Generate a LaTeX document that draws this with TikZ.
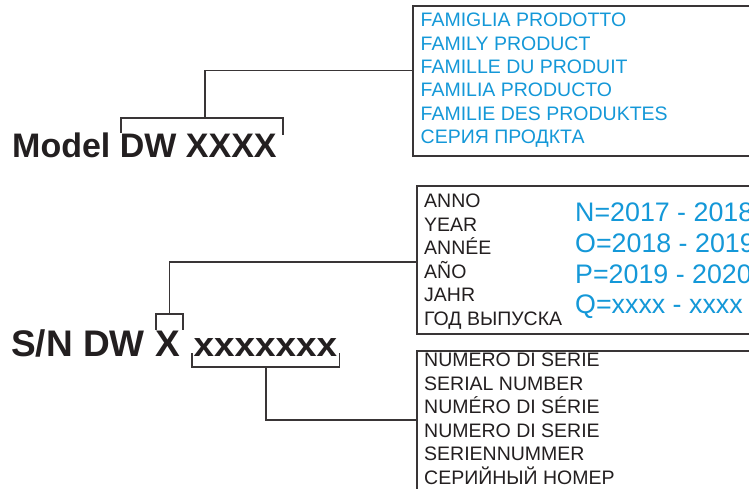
\documentclass[tikz,border=0pt]{standalone}
\usepackage{fontspec}
\usepackage{graphicx}
\setmainfont{Liberation Sans}
\definecolor{lbl}{RGB}{20,152,216}
\definecolor{ink}{RGB}{35,31,32}
\begin{document}
\begin{tikzpicture}[x=1pt,y=-1pt,
  box/.style={draw=ink!90, line width=2pt, anchor=north west, inner sep=0pt},
  conn/.style={draw=ink!90, line width=1.6pt},
  big/.style={font=\fontsize{34}{40}\selectfont\bfseries, text=ink, anchor=base west, inner sep=0pt},
  bigger/.style={big, font=\fontsize{37}{42}\selectfont\bfseries},
  small/.style={font=\fontsize{19.5}{23}\selectfont, anchor=base west, inner sep=0pt},
  blue/.style={small, text=lbl},
  blk/.style={small, text=ink},
  year/.style={font=\fontsize{26.8}{30}\selectfont, text=lbl, anchor=base west, inner sep=0pt}]
\useasboundingbox[fill=white] (0,0) rectangle (749,489);
% boxes
\node[box, minimum width=400pt, minimum height=150pt] (b1) at (412,5) {};
\node[box, minimum width=400pt, minimum height=148pt] (b2) at (415.7,185) {};
\node[box, minimum width=400pt, minimum height=180pt] (b3) at (415.7,350) {};
% box 1 texts
\node[blue] (t11) at (420.5,26.8) {FAMIGLIA PRODOTTO};
\node[blue] (t12) at (420.5,50.1) {FAMILY PRODUCT};
\node[blue] (t13) at (420.5,73.5) {FAMILLE DU PRODUIT};
\node[blue] (t14) at (420.5,96.8) {FAMILIA PRODUCTO};
\node[blue] (t15) at (420.5,120.1) {FAMILIE DES PRODUKTES};
\node[blue] (t16) at (420.5,143.5) {СЕРИЯ ПРОДКТА};
% box 2 texts
\node[blk] (t21) at (424,207.5) {ANNO};
\node[blk] (t22) at (424,231) {YEAR};
\node[blk] (t23) at (424,254.5) {ANNÉE};
\node[blk] (t24) at (424,278) {AÑO};
\node[blk] (t25) at (424,301.5) {JAHR};
\node[blk] (t26) at (424,325) {ГОД ВЫПУСКА};
\node[year] (y1) at (575,221.7) {N=2017 - 2018};
\node[year] (y2) at (575,252.4) {O=2018 - 2019};
\node[year] (y3) at (575,283.1) {P=2019 - 2020};
\node[year] (y4) at (575,313.6) {Q=xxxx - xxxx};
% box 3 texts
\node[blk] (t31) at (424,366.7) {NUMERO DI SERIE};
\node[blk] (t32) at (424,390.2) {SERIAL NUMBER};
\node[blk] (t33) at (424,413.7) {NUMÉRO DI SÉRIE};
\node[blk] (t34) at (424,437.2) {NUMERO DI SERIE};
\node[blk] (t35) at (424,460.7) {SERIENNUMMER};
\node[blk] (t36) at (424,484.2) {СЕРИЙНЫЙ НОМЕР};
% main labels
\node[big] (model) at (12,158) {Model DW XXXX};
\node[bigger] (sn) at (11,356.7) {S/N DW X};
\node[big] (ser) at (193.3,356.7) {\scalebox{1.085}[1]{xxxxxxx}};
% bracket 1
\coordinate (m1) at (205,118);
\coordinate (j1) at (412,70.7);
\draw[conn] (j1) -| (m1);
\draw[conn] (120.7,133) |- (282.7,118) -- (282.7,135);
% bracket 2
\coordinate (m2) at (169.3,314);
\coordinate (j2) at (415.7,261.7);
\draw[conn] (j2) -| (m2);
\draw[conn] (155.7,330) |- (182.7,314) -- (182.7,330);
% bracket 3
\coordinate (m3) at (266,367);
\coordinate (j3) at (415.7,420);
\draw[conn] (191.7,353.3) |- (339.3,367) -- (339.3,353.3);
\draw[conn] (m3) |- (j3);
\end{tikzpicture}
\end{document}
